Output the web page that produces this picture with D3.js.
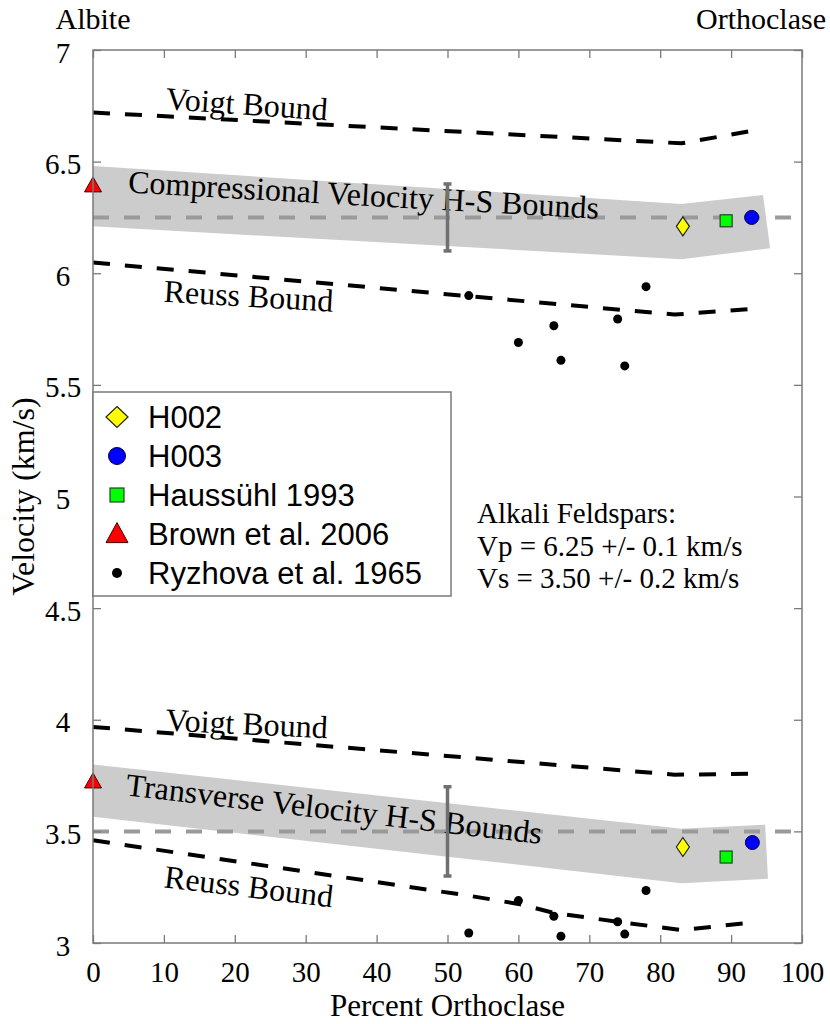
<!DOCTYPE html>
<html>
<head>
<meta charset="utf-8">
<script src="https://cdn.jsdelivr.net/npm/d3@7"></script>
<style>
  html, body { margin: 0; padding: 0; background: #fff; }
  svg { display: block; }
</style>
</head>
<body>
<svg id="chart" width="830" height="1024"></svg>
<script>
// ---------------- DATA ----------------
const xTicks = [0, 10, 20, 30, 40, 50, 60, 70, 80, 90, 100];
const yTicks = [3, 3.5, 4, 4.5, 5, 5.5, 6, 6.5, 7];
const yTickLabels = ["3", "3.5", "4", "4.5", "5", "5.5", "6", "6.5", "7"];

// Compressional (Vp) bounds
const voigtP = [[0, 6.72], [83, 6.582], [93, 6.638]];
const reussP = [[0, 6.048], [82, 5.815], [93, 5.84]];
const hsUpperP = [[0, 6.48], [83, 6.31], [94.5, 6.35]];
const hsLowerP = [[0, 6.21], [83, 6.063], [95.5, 6.112]];

// Transverse (Vs) bounds
const voigtS = [[0, 3.968], [82, 3.754], [93, 3.758]];
const reussS = [[0, 3.46], [53, 3.212], [60, 3.175], [65, 3.135], [74, 3.095], [83, 3.058], [93, 3.092]];
const hsUpperS = [[0, 3.80], [83, 3.512], [94.8, 3.53]];
const hsLowerS = [[0, 3.565], [83, 3.268], [95.2, 3.288]];

// Reference values and uncertainty bars
const refLines = [6.25, 3.5];
const errorBars = [[50, 6.1, 6.4], [50, 3.3, 3.7]];

// Measurements: [percent orthoclase, velocity]
const h002 = [[83.2, 6.21], [83.2, 3.43]];
const h003 = [[92.9, 6.25], [93.0, 3.45]];
const haussuhl = [[89.3, 6.235], [89.3, 3.385]];
const brown = [[0, 6.39], [0, 3.72]];
const ryzhovaX = [53, 60, 65, 66, 74, 75, 78];
const ryzhovaVp = [5.90, 5.69, 5.765, 5.61, 5.795, 5.585, 5.94];
const ryzhovaVs = [3.045, 3.19, 3.12, 3.03, 3.095, 3.04, 3.235];

const legendLabels = ["H002", "H003", "Haussühl 1993", "Brown et al. 2006", "Ryzhova et al. 1965"];
const noteLines = ["Alkali Feldspars:", "Vp = 6.25 +/- 0.1 km/s", "Vs = 3.50 +/- 0.2 km/s"];

// Curve labels: [text, x, y, rotation deg]
const curveLabels = [
  ["Voigt Bound", 10.2, 6.735, 4],
  ["Compressional Velocity H-S Bounds", 4.9, 6.362, 3.2],
  ["Reuss Bound", 9.9, 5.872, 3.3],
  ["Voigt Bound", 10.2, 3.952, 2.8],
  ["Transverse Velocity H-S Bounds", 4.5, 3.662, 6.7],
  ["Reuss Bound", 9.9, 3.25, 6.8]
];

// ---------------- LAYOUT ----------------
const serif = "'Liberation Serif', 'Times New Roman', serif";
const sans = "'Liberation Sans', Arial, sans-serif";
const L = 93, R = 802, T = 50, B = 943;

const svg = d3.select("#chart");
const x = d3.scaleLinear().domain([0, 100]).range([L, R]);
const y = d3.scaleLinear().domain([3, 7]).range([B, T]);

const line = d3.line().x(d => x(d[0])).y(d => y(d[1]));

// HS bands
function bandPoly(up, lo) {
  return up.concat(lo.slice().reverse());
}
svg.append("g").selectAll("path.band")
  .data([bandPoly(hsUpperP, hsLowerP), bandPoly(hsUpperS, hsLowerS)])
  .join("path")
  .attr("d", d => line(d) + "Z")
  .attr("fill", "#cbcccb")
  .attr("stroke", "none");

// Reference dashed lines
svg.append("g").selectAll("line")
  .data(refLines)
  .join("line")
  .attr("x1", x(0)).attr("x2", x(100))
  .attr("y1", d => y(d)).attr("y2", d => y(d))
  .attr("stroke", "#9a9a9a")
  .attr("stroke-width", 4)
  .attr("stroke-dasharray", "16,15");

// Voigt / Reuss dashed bounds
svg.append("g").selectAll("path")
  .data([voigtP, reussP, voigtS, reussS])
  .join("path")
  .attr("d", line)
  .attr("fill", "none")
  .attr("stroke", "#000")
  .attr("stroke-width", 4)
  .attr("stroke-dasharray", "17,15");

// Curve labels
svg.append("g").selectAll("text")
  .data(curveLabels)
  .join("text")
  .attr("transform", d => `translate(${x(d[1])},${y(d[2])}) rotate(${d[3]})`)
  .attr("font-family", serif)
  .attr("font-size", 32)
  .attr("fill", "#000")
  .text(d => d[0]);

// Error bars
const eb = svg.append("g").attr("stroke", "#707070").attr("stroke-width", 3.5);
errorBars.forEach(d => {
  eb.append("line").attr("x1", x(d[0])).attr("x2", x(d[0])).attr("y1", y(d[1])).attr("y2", y(d[2]));
  eb.append("line").attr("x1", x(d[0]) - 4).attr("x2", x(d[0]) + 4).attr("y1", y(d[1])).attr("y2", y(d[1]));
  eb.append("line").attr("x1", x(d[0]) - 4).attr("x2", x(d[0]) + 4).attr("y1", y(d[2])).attr("y2", y(d[2]));
});

// Marker shapes
function diamond(w, h) { return `M0,${-h/2}L${w/2},0L0,${h/2}L${-w/2},0Z`; }
function tri(w, h) { return `M0,${-h*0.62}L${w/2},${h*0.38}L${-w/2},${h*0.38}Z`; }

const pts = svg.append("g");
// Ryzhova dots
const ryz = ryzhovaX.map((v, i) => [v, ryzhovaVp[i]]).concat(ryzhovaX.map((v, i) => [v, ryzhovaVs[i]]));
pts.selectAll("circle.ryz").data(ryz).join("circle").attr("class", "ryz")
  .attr("cx", d => x(d[0])).attr("cy", d => y(d[1])).attr("r", 4.5).attr("fill", "#000");
// Brown triangles
pts.selectAll("path.brown").data(brown).join("path").attr("class", "brown")
  .attr("transform", d => `translate(${x(d[0])},${y(d[1])})`)
  .attr("d", tri(17, 15)).attr("fill", "#ff0000").attr("stroke", "#400").attr("stroke-width", 1);
// H002 diamonds
pts.selectAll("path.h002").data(h002).join("path").attr("class", "h002")
  .attr("transform", d => `translate(${x(d[0])},${y(d[1])})`)
  .attr("d", diamond(13, 19)).attr("fill", "#ffff00").attr("stroke", "#222").attr("stroke-width", 1.2);
// Haussuhl squares
pts.selectAll("rect.hau").data(haussuhl).join("rect").attr("class", "hau")
  .attr("x", d => x(d[0]) - 6).attr("y", d => y(d[1]) - 6).attr("width", 12).attr("height", 12)
  .attr("fill", "#00ff00").attr("stroke", "#224422").attr("stroke-width", 1.2);
// H003 circles
pts.selectAll("circle.h003").data(h003).join("circle").attr("class", "h003")
  .attr("cx", d => x(d[0])).attr("cy", d => y(d[1])).attr("r", 7)
  .attr("fill", "#0000ff").attr("stroke", "#000044").attr("stroke-width", 1);

// Axes (inward ticks on all four sides)
const axisColor = "#7a7a7a";
function styleAxis(g) {
  g.select(".domain").remove();
  g.selectAll(".tick line").attr("stroke", axisColor).attr("stroke-width", 1.3);
}
const gB = svg.append("g").attr("transform", `translate(0,${B})`)
  .call(d3.axisBottom(x).tickValues(xTicks).tickSizeInner(-8).tickSizeOuter(0).tickFormat(d3.format("d")));
styleAxis(gB);
gB.selectAll("text").attr("y", 39).attr("dy", 0)
  .attr("font-family", serif).attr("font-size", 29).attr("fill", "#000");

const gT = svg.append("g").attr("transform", `translate(0,${T})`)
  .call(d3.axisTop(x).tickValues(xTicks).tickSizeInner(-8).tickSizeOuter(0).tickFormat(""));
styleAxis(gT);

const gL = svg.append("g").attr("transform", `translate(${L},0)`)
  .call(d3.axisLeft(y).tickValues(yTicks).tickSizeInner(-8).tickSizeOuter(0)
    .tickFormat((d, i) => yTickLabels[i]));
styleAxis(gL);
gL.selectAll("text").attr("x", -30).attr("dy", 0).attr("y", 12)
  .attr("text-anchor", "middle")
  .attr("font-family", serif).attr("font-size", 29).attr("fill", "#000");

const gR = svg.append("g").attr("transform", `translate(${R},0)`)
  .call(d3.axisRight(y).tickValues(yTicks).tickSizeInner(-8).tickSizeOuter(0).tickFormat(""));
styleAxis(gR);

// Frame
svg.append("rect").attr("x", L).attr("y", T).attr("width", R - L).attr("height", B - T)
  .attr("fill", "none").attr("stroke", axisColor).attr("stroke-width", 1.5);

// Axis titles
svg.append("text").attr("x", x(50)).attr("y", 1016).attr("text-anchor", "middle")
  .attr("font-family", serif).attr("font-size", 31).text("Percent Orthoclase");
svg.append("text").attr("transform", `translate(34,${y(5)}) rotate(-90)`).attr("text-anchor", "middle")
  .attr("font-family", serif).attr("font-size", 32).text("Velocity (km/s)");

// End member labels
svg.append("text").attr("x", x(0)).attr("y", 29).attr("text-anchor", "middle")
  .attr("font-family", serif).attr("font-size", 30).text("Albite");
svg.append("text").attr("x", 826).attr("y", 29).attr("text-anchor", "end")
  .attr("font-family", serif).attr("font-size", 30).text("Orthoclase");

// Legend
const lg = svg.append("g");
lg.append("rect").attr("x", 93).attr("y", 392).attr("width", 358).attr("height", 204)
  .attr("fill", "#fff").attr("stroke", "#7a7a7a").attr("stroke-width", 1.5);
const rowY = [417, 456, 495, 534, 573];
const mx = 117;
lg.append("path").attr("transform", `translate(${mx},${rowY[0]})`).attr("d", diamond(22, 21))
  .attr("fill", "#ffff00").attr("stroke", "#222").attr("stroke-width", 1.2);
lg.append("circle").attr("cx", mx).attr("cy", rowY[1]).attr("r", 8.5)
  .attr("fill", "#0000ff").attr("stroke", "#000044").attr("stroke-width", 1);
lg.append("rect").attr("x", mx - 7).attr("y", rowY[2] - 7).attr("width", 14).attr("height", 14)
  .attr("fill", "#00ff00").attr("stroke", "#224422").attr("stroke-width", 1.2);
lg.append("path").attr("transform", `translate(${mx},${rowY[3] + 1})`).attr("d", tri(22, 20))
  .attr("fill", "#ff0000").attr("stroke", "#400").attr("stroke-width", 1);
lg.append("circle").attr("cx", mx).attr("cy", rowY[4]).attr("r", 5).attr("fill", "#000");
lg.selectAll("text.leg").data(legendLabels).join("text").attr("class", "leg")
  .attr("x", 148).attr("y", (d, i) => rowY[i] + 11)
  .attr("font-family", sans).attr("font-size", 31).attr("fill", "#000")
  .text(d => d);

// Note text
svg.append("g").selectAll("text").data(noteLines).join("text")
  .attr("x", 477).attr("y", (d, i) => 523 + i * 32.5)
  .attr("font-family", serif).attr("font-size", 29).attr("fill", "#000")
  .text(d => d);
</script>
</body>
</html>
